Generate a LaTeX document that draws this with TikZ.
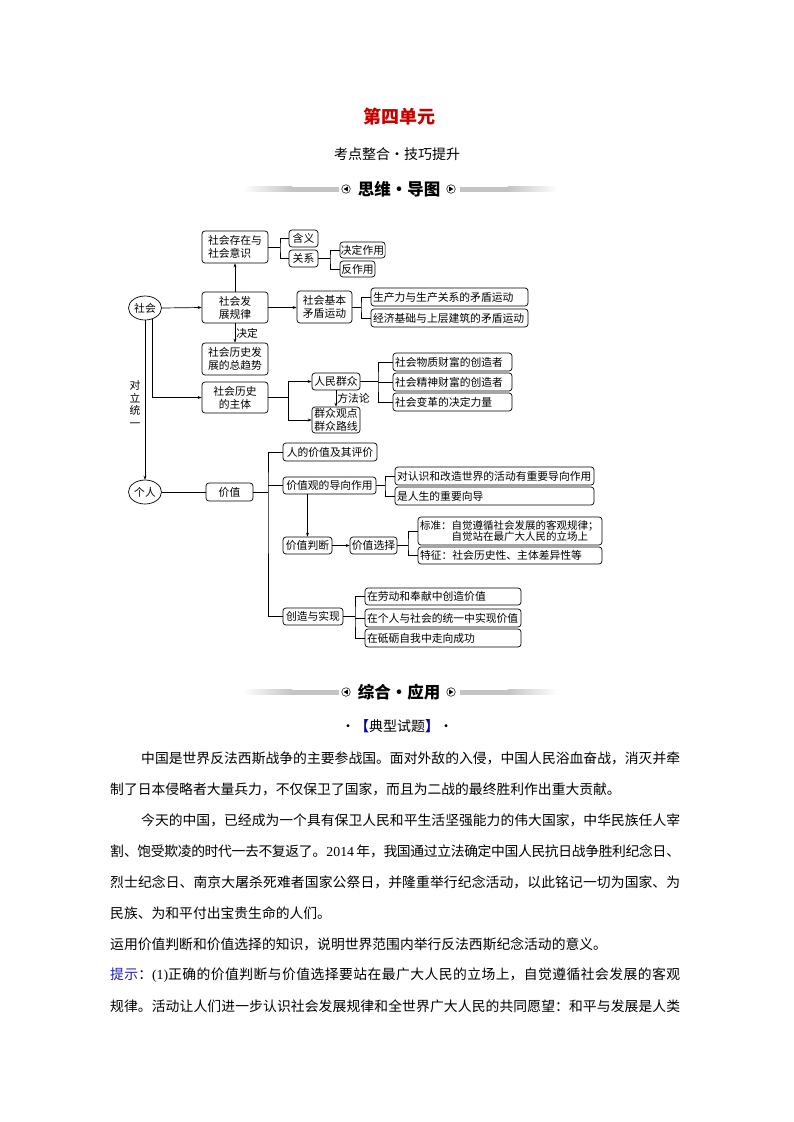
\documentclass[tikz,border=0pt]{standalone}
\usepackage{fontspec}
\setmainfont{Noto Sans CJK SC}
\newfontfamily\latf{Liberation Serif}
\usetikzlibrary{arrows.meta,calc,shapes.geometric}
\XeTeXlinebreaklocale "zh"
\XeTeXlinebreakskip=0pt plus 3pt minus 0.4pt
\XeTeXlinebreakpenalty=0
\hbadness=10000
\hfuzz=60pt
\definecolor{titlered}{RGB}{200,0,0}
\definecolor{tipblue}{RGB}{30,30,170}
\definecolor{brblue}{RGB}{0,0,170}
\definecolor{barg}{RGB}{196,196,196}
\tikzset{
  box/.style={draw, rounded corners=3pt, line width=0.7pt, inner sep=1pt,
    font=\fontsize{10.8}{12.8}\selectfont, align=center},
  oval/.style={draw, ellipse, line width=0.7pt, minimum width=33pt,
    minimum height=24pt, inner sep=0pt, font=\fontsize{10.8}{12}\selectfont},
  ln/.style={line width=0.7pt},
  arr/.style={line width=0.7pt, -{Stealth[length=4pt,width=3pt]}},
  lbl/.style={font=\fontsize{10.8}{12.5}\selectfont, inner sep=1pt},
  body/.style={anchor=west, inner sep=0pt, font=\fontsize{13.8}{16}\selectfont},
  hdrtext/.style={font=\fontsize{16.5}{18}\selectfont\bfseries, inner sep=0pt},
}
% centred box: [opt]{name}{x1}{y1}{x2}{y2}{text}
\newcommand\cb[7][]{\node[box,minimum width={#5-#3},minimum height={#6-#4},#1]
  (#2) at ({(#3+#5)/2},{(#4+#6)/2}) {#7};}
% left-aligned box
\newcommand\lb[7][]{\pgfmathsetmacro\tw{#5-#3-4}%
  \node[box,minimum width={#5-#3},minimum height={#6-#4},text width=\tw pt,align=left,#1]
  (#2) at ({(#3+#5)/2},{(#4+#6)/2}) {#7};}
% header bar with circled triangles
\newcommand\hdr[3]{%
  \shade[left color=white,right color=barg] (243,#1-2.5) rectangle (292,#1+2.5);
  \fill[barg] (291.5,#1-2.5) rectangle (339,#1+2.5);
  \fill[barg] (460,#1-2.5) rectangle (508.5,#1+2.5);
  \shade[left color=barg,right color=white] (508,#1-2.5) rectangle (557,#1+2.5);
  \draw[line width=0.5pt] (346,#1) circle (4.3);
  \fill (343.6,#1) -- (347.8,#1-2.4) -- (347.8,#1+2.4) -- cycle;
  \draw[line width=0.5pt] (451,#1) circle (4.3);
  \fill (453.4,#1) -- (449.2,#1-2.4) -- (449.2,#1+2.4) -- cycle;
  \node[hdrtext] (#2) at (399,#1) {#3};}
\newcommand\jline[4]{\node[body] (#1) at (#2,#3)
  {\parbox{\dimexpr680pt-#2pt\relax}{\parfillskip=0pt\relax\noindent #4\par}};}
\newcommand\nline[4]{\node[body] (#1) at (#2,#3) {#4};}
\begin{document}
\begin{tikzpicture}[x=1pt,y=-1pt]
\useasboundingbox (0,0) rectangle (793,1122);
\fill[white] (0,0) rectangle (793,1122);

% titles
\node[font=\fontsize{18}{20}\selectfont\bfseries, text=titlered, inner sep=0pt] (t1) at (399,117) {第四单元};
\node[font=\fontsize{14}{16}\selectfont, inner sep=0pt] (t2) at (397,154) {考点整合・技巧提升};
\hdr{189}{h1}{思维・导图}

% ---------------- mind map ----------------
\node[oval] (sh) at (145,308) {社会};
\node[oval] (gr) at (145,492) {个人};

\cb[align=left]{cz}{202}{231}{268}{263}{社会存在与\\社会意识}
\cb{hy}{289}{230}{318}{247}{含义}
\cb{gx}{289}{250}{318}{267}{关系}
\cb{jdzy}{340}{242}{385}{258}{决定作用}
\cb{fzy}{340}{261}{375}{277}{反作用}
\cb{gl}{202}{292}{268}{323}{社会发\\展规律}
\cb{jb}{297}{291}{352}{323}{社会基本\\矛盾运动}
\lb{sc}{371}{288}{528}{306}{生产力与生产关系的矛盾运动}
\lb{jj}{371}{309}{528}{327}{经济基础与上层建筑的矛盾运动}
\cb[align=left]{qs}{202}{343}{268}{375}{社会历史发\\展的总趋势}
\cb{zt}{202}{382}{268}{413}{社会历史\\的主体}
\cb{rm}{312}{373}{360}{390}{人民群众}
\cb[align=left]{qz}{312}{407}{360}{433}{群众观点\\群众路线}
\lb{wz}{393}{353}{512}{371}{社会物质财富的创造者}
\lb{js}{393}{373}{512}{391}{社会精神财富的创造者}
\lb{bg}{393}{393}{512}{411}{社会变革的决定力量}

\cb{jz}{206}{483}{253}{501}{价值}
\cb{pj}{283}{443}{377}{461}{人的价值及其评价}
\cb{dx}{283}{477}{376}{494}{价值观的导向作用}
\cb{pd}{283}{537}{332}{554}{价值判断}
\cb{xz}{350}{537}{397}{554}{价值选择}
\cb{cs}{283}{608}{343}{625}{创造与实现}
\lb{dr}{395}{467}{594}{485}{对认识和改造世界的活动有重要导向作用}
\lb{sr}{395}{487}{594}{505}{是人生的重要向导}
\lb[font=\fontsize{10.5}{11.5}\selectfont]{bz}{418}{517}{602}{545}{标准：自觉遵循社会发展的客观规律；\\\phantom{标准：}自觉站在最广大人民的立场上}
\lb{tz}{418}{547}{602}{564}{特征：社会历史性、主体差异性等}
\lb{ld}{365}{588}{521}{605}{在劳动和奉献中创造价值}
\lb{ty}{365}{609}{521}{627}{在个人与社会的统一中实现价值}
\lb{dl}{365}{629}{521}{647}{在砥砺自我中走向成功}

% connectors
\draw[arr] (sh.east) -- (gl.west);
\draw[arr] (gl.north) -- (cz.south);
\draw[arr] (gl.east) -- (gl.east -| jb.west);
\draw[arr] (gl.south) -- (qs.north) node[midway,right,lbl] (lj) {决定};
\draw[arr] (sh.-55) |- (zt.west);
\draw[arr] (sh.south) -- (gr.north);
\node[lbl, align=center] (dltv) at (135,404) {对\\立\\统\\一};

\coordinate (j1) at (280,247);
\draw[ln] (cz.east) -- (j1);
\draw[ln] (hy.west) -| (j1) |- (gx.west);
\coordinate (j2) at (330,258.5);
\draw[ln] (gx.east) -- (j2);
\draw[ln] (jdzy.west) -| (j2) |- (fzy.west);
\coordinate (j3) at (361,307);
\draw[ln] (jb.east) -- (j3);
\draw[ln] (sc.west) -| (j3) |- (jj.west);

\coordinate (j4) at (288,397.5);
\draw[ln] (zt.east) -- (j4);
\draw[arr] (j4) |- (rm.west);
\draw[arr] (j4) |- (qz.west);
\draw[arr] (rm.south) -- (qz.north) node[midway,right,lbl] (ffl) {方法论};
\coordinate (j5) at (378,381.5);
\draw[ln] (rm.east) -- (j5);
\draw[ln] (wz.west) -| (j5) |- (bg.west);
\draw[ln] (js.west) -- (js.west -| j5);

\draw[ln] (gr.east) -- (jz.west);
\coordinate (j6) at (268,492);
\draw[ln] (jz.east) -- (j6);
\draw[ln] (pj.west) -| (j6) |- (cs.west);
\draw[ln] (dx.west) -- (dx.west -| j6);
\draw[arr] (dx.south -| pd.north) -- (pd.north);
\draw[arr] (pd.east) -- (xz.west);
\coordinate (j7) at (385,485.5);
\draw[ln] (dx.east) -- (j7);
\draw[ln] (dr.west) -| (j7) |- (sr.west);
\coordinate (j8) at (408,545.5);
\draw[ln] (xz.east) -- (j8);
\draw[ln] (bz.west) -| (j8) |- (tz.west);
\coordinate (j9) at (355,616.5);
\draw[ln] (cs.east) -- (j9);
\draw[ln] (ld.west) -| (j9) |- (dl.west);
\draw[ln] (ty.west) -- (ty.west -| j9);

% ---------------- second part ----------------
\hdr{692}{h2}{综合・应用}
\node[font=\fontsize{14}{16}\selectfont, inner sep=0pt] (dx2) at (397,726)
  {·{\color{brblue}\bfseries 【}典型试题{\color{brblue}\bfseries 】}·};

\jline{p1}{141}{758}{中国是世界反法西斯战争的主要参战国。面对外敌的入侵，中国人民浴血奋战，消灭并牵}
\nline{p2}{110}{789.5}{制了日本侵略者大量兵力，不仅保卫了国家，而且为二战的最终胜利作出重大贡献。}
\jline{p3}{141}{820}{今天的中国，已经成为一个具有保卫人民和平生活坚强能力的伟大国家，中华民族任人宰}
\jline{p4}{110}{851}{割、饱受欺凌的时代一去不复返了。{\latf 2014} 年，我国通过立法确定中国人民抗日战争胜利纪念日、}
\jline{p5}{110}{882}{烈士纪念日、南京大屠杀死难者国家公祭日，并隆重举行纪念活动，以此铭记一切为国家、为}
\nline{p6}{110}{913}{民族、为和平付出宝贵生命的人们。}
\nline{p7}{110}{944}{运用价值判断和价值选择的知识，说明世界范围内举行反法西斯纪念活动的意义。}
\jline{p8}{110}{975}{{\color{tipblue}提示}：{\latf (1)}正确的价值判断与价值选择要站在最广大人民的立场上，自觉遵循社会发展的客观}
\jline{p9}{110}{1006}{规律。活动让人们进一步认识社会发展规律和全世界广大人民的共同愿望：和平与发展是人类}
\end{tikzpicture}
\end{document}
